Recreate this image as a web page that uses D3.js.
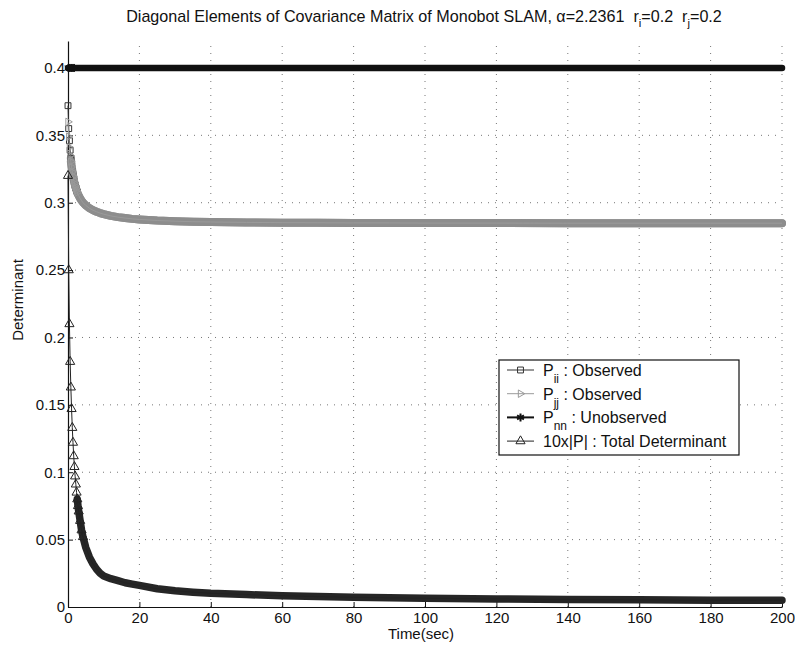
<!DOCTYPE html>
<html>
<head>
<meta charset="utf-8">
<script src="https://cdn.jsdelivr.net/npm/d3@7"></script>
<style>
  html, body { margin: 0; padding: 0; background: #fff; }
  svg { display: block; font-family: "Liberation Sans", Arial, Helvetica, sans-serif; }
</style>
</head>
<body>
<svg id="chart" width="795" height="648"></svg>
<script>
// Sample times (s) and the diagonal covariance terms at those times
const times = [0, 0.2, 0.4, 0.6, 0.8, 1.0, 1.2, 1.4, 1.6, 1.8, 2.0, 2.2, 2.4, 2.6, 2.8, 3.0,
  3.4, 3.8, 4.2, 5, 6, 7, 8, 9, 10, 12, 14, 16, 18, 20, 25, 30, 35, 40, 50, 60, 70, 80,
  90, 100, 120, 140, 160, 180, 200];

const pii = [0.372, 0.355, 0.346, 0.339, 0.333, 0.328, 0.324, 0.3205, 0.3175, 0.315,
  0.3128, 0.311, 0.3093, 0.3078, 0.3065, 0.3053, 0.3033, 0.3016, 0.3002, 0.298, 0.296,
  0.2945, 0.2933, 0.2923, 0.2915, 0.2902, 0.2893, 0.2886, 0.288, 0.2876, 0.2868, 0.2863,
  0.2859, 0.2857, 0.2854, 0.2852, 0.2851, 0.285, 0.285, 0.2849, 0.2849, 0.2848, 0.2848,
  0.2848, 0.2848];

const pjj = [0.36, 0.349, 0.341, 0.335, 0.3305, 0.3265, 0.3228, 0.3196, 0.3168, 0.3144,
  0.3123, 0.3106, 0.309, 0.3076, 0.3063, 0.3052, 0.3032, 0.3015, 0.3001, 0.2979, 0.2959,
  0.2944, 0.2933, 0.2923, 0.2915, 0.2902, 0.2893, 0.2886, 0.288, 0.2876, 0.2868, 0.2863,
  0.2859, 0.2857, 0.2854, 0.2852, 0.2851, 0.285, 0.285, 0.2849, 0.2849, 0.2848, 0.2848,
  0.2848, 0.2848];

const pnn = [0.4, 0.4, 0.4, 0.4, 0.4, 0.4, 0.4, 0.4, 0.4, 0.4, 0.4, 0.4, 0.4, 0.4, 0.4,
  0.4, 0.4, 0.4, 0.4, 0.4, 0.4, 0.4, 0.4, 0.4, 0.4, 0.4, 0.4, 0.4, 0.4, 0.4, 0.4, 0.4,
  0.4, 0.4, 0.4, 0.4, 0.4, 0.4, 0.4, 0.4, 0.4, 0.4, 0.4, 0.4, 0.4];

// 10 x |P|
const detP10 = [0.32, 0.25, 0.21, 0.182, 0.163, 0.147, 0.133, 0.122, 0.112, 0.104, 0.097,
  0.091, 0.085, 0.080, 0.075, 0.071, 0.064, 0.057, 0.052, 0.044, 0.037, 0.032, 0.028,
  0.025, 0.023, 0.021, 0.0195, 0.018, 0.017, 0.016, 0.0135, 0.012, 0.011, 0.0102, 0.0092,
  0.0084, 0.0077, 0.0072, 0.0068, 0.0065, 0.006, 0.0056, 0.0053, 0.0051, 0.005];

const xTicks = [0, 20, 40, 60, 80, 100, 120, 140, 160, 180, 200];
const yTicks = [0, 0.05, 0.1, 0.15, 0.2, 0.25, 0.3, 0.35, 0.4];

const svg = d3.select("#chart");
const x = d3.scaleLinear().domain([0, 200]).range([68, 782]);
const y = d3.scaleLinear().domain([0, 0.42]).range([607, 41]);

// dotted grid
const grid = svg.append("g").attr("stroke", "#777").attr("stroke-width", 1)
  .attr("stroke-dasharray", "1,6");
grid.selectAll("line.v").data(xTicks.slice(1)).join("line").attr("class", "v")
  .attr("x1", d => x(d)).attr("x2", d => x(d)).attr("y1", y.range()[0]).attr("y2", y.range()[1]);
grid.selectAll("line.h").data(yTicks.slice(1)).join("line").attr("class", "h")
  .attr("x1", x.range()[0]).attr("x2", x.range()[1]).attr("y1", d => y(d)).attr("y2", d => y(d));

// axes (ticks point inwards)
const fmt = d => String(d);
const yAxis = svg.append("g").attr("transform", `translate(${x.range()[0]},0)`)
  .call(d3.axisLeft(y).tickValues(yTicks).tickFormat(fmt).tickSizeInner(-5).tickSizeOuter(0).tickPadding(3));
const xAxis = svg.append("g").attr("transform", `translate(0,${y.range()[0]})`)
  .call(d3.axisBottom(x).tickValues(xTicks).tickFormat(fmt).tickSizeInner(-5).tickSizeOuter(0).tickPadding(5));
[xAxis, yAxis].forEach(a => {
  a.select(".domain").attr("stroke", "#111").attr("stroke-width", 1.2);
  a.selectAll(".tick line").attr("stroke", "#111");
  a.selectAll(".tick text").attr("fill", "#111").style("font-size", "15px")
    .style("font-family", "'Liberation Sans', Arial, sans-serif");
});

const rows = times.map((t, i) => ({ t, pii: pii[i], pjj: pjj[i], pnn: pnn[i], det: detP10[i] }));

const series = [
  { key: "pii", sym: d3.symbolSquare2, size: 44, rot: 0, color: "#333", band: "#8d8d8d", bandFrom: 0.8, bandW: 8 },
  { key: "pjj", sym: d3.symbolTriangle2, size: 40, rot: 90, color: "#9a9a9a", band: "#8d8d8d", bandFrom: 0.8, bandW: 8 },
  { key: "pnn", sym: d3.symbolAsterisk, size: 44, rot: 0, color: "#111", band: "#111", bandFrom: 0, bandW: 6.5 },
  { key: "det", sym: d3.symbolTriangle2, size: 60, rot: 0, color: "#222", band: "#262626", bandFrom: 2.6, bandW: 7.5 }
];

const plot = svg.append("g");
series.forEach(s => {
  const line = d3.line().x(d => x(d.t)).y(d => y(d[s.key]));
  // dense overlapping markers appear as a solid band
  plot.append("path").datum(rows.filter(d => d.t >= s.bandFrom))
    .attr("d", line).attr("fill", "none").attr("stroke", s.band)
    .attr("stroke-width", s.bandW).attr("stroke-linejoin", "round").attr("stroke-linecap", "round");
  plot.append("path").datum(rows).attr("d", line).attr("fill", "none")
    .attr("stroke", s.color).attr("stroke-width", 1);
  plot.selectAll(null).data(rows.filter(d => d.t < s.bandFrom + 2)).join("path")
    .attr("transform", d => `translate(${x(d.t)},${y(d[s.key])}) rotate(${s.rot})`)
    .attr("d", d3.symbol(s.sym, s.size)).attr("fill", "none")
    .attr("stroke", s.color).attr("stroke-width", 1);
});

// title, sized to span the plot width
const titleSize = 16, titleWidth = 596;
const title = svg.append("text").attr("x", 424).attr("y", 22).attr("text-anchor", "middle")
  .attr("fill", "#111").style("white-space", "pre");
title.append("tspan").attr("class", "big").text("Diagonal Elements of Covariance Matrix of Monobot SLAM, α=2.2361  r");
title.append("tspan").attr("class", "sub").attr("dy", 5).text("i");
title.append("tspan").attr("class", "big").attr("dy", -5).text("=0.2  r");
title.append("tspan").attr("class", "sub").attr("dy", 5).text("j");
title.append("tspan").attr("class", "big").attr("dy", -5).text("=0.2");
function sizeTitle(fs) {
  title.selectAll("tspan.big").style("font-size", fs + "px");
  title.selectAll("tspan.sub").style("font-size", (fs * 0.7) + "px");
}
sizeTitle(titleSize);
sizeTitle(titleSize * titleWidth / title.node().getComputedTextLength());

// axis labels
svg.append("text").attr("x", 421).attr("y", 639).attr("text-anchor", "middle")
  .attr("fill", "#111").style("font-size", "15px").text("Time(sec)");
svg.append("text").attr("transform", "translate(23,300) rotate(-90)").attr("text-anchor", "middle")
  .attr("fill", "#111").style("font-size", "15px").text("Determinant");

// legend
const legendItems = [
  { key: "pii", main: "P", sub: "ii", rest: " : Observed" },
  { key: "pjj", main: "P", sub: "jj", rest: " : Observed" },
  { key: "pnn", main: "P", sub: "nn", rest: " : Unobserved" },
  { key: "det", main: "10x|P| : Total Determinant", sub: "", rest: "" }
];
const lg = svg.append("g");
lg.append("rect").attr("x", 499).attr("y", 360).attr("width", 240).attr("height", 95)
  .attr("fill", "#fff").attr("stroke", "#111").attr("stroke-width", 1.2);
legendItems.forEach((it, i) => {
  const s = series.find(q => q.key === it.key);
  const cy = 370 + i * 23.7;
  lg.append("line").attr("x1", 507).attr("x2", 534).attr("y1", cy).attr("y2", cy)
    .attr("stroke", s.color).attr("stroke-width", s.key === "pnn" ? 2 : 1);
  lg.append("path").attr("transform", `translate(520.5,${cy}) rotate(${s.rot})`)
    .attr("d", d3.symbol(s.sym, s.size)).attr("fill", "none").attr("stroke", s.color)
    .attr("stroke-width", s.key === "pnn" ? 2 : 1);
  const tx = lg.append("text").attr("x", 543).attr("y", cy + 6).attr("fill", "#111")
    .style("font-size", "16px").style("white-space", "pre");
  tx.append("tspan").text(it.main);
  if (it.sub) {
    tx.append("tspan").attr("dy", 7).style("font-size", "12px").text(it.sub);
    tx.append("tspan").attr("dy", -7).text(it.rest);
  }
});
</script>
</body>
</html>
